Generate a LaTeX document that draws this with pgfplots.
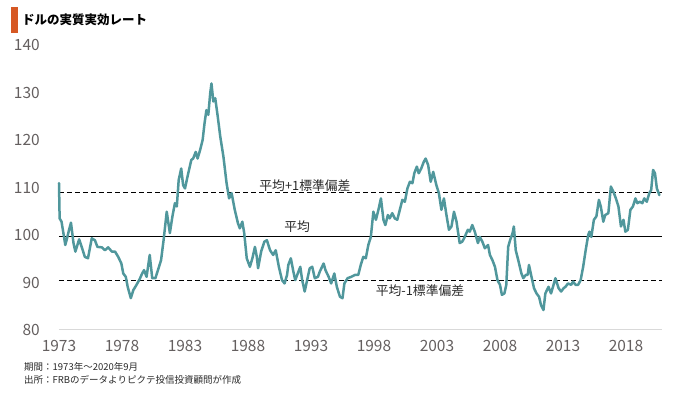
\documentclass[border=0pt]{standalone}
\usepackage{fontspec}
\setmainfont{Noto Sans CJK JP}
\usepackage{pgfplots}
\pgfplotsset{compat=1.18}
\definecolor{teal1}{RGB}{80,151,156}
\definecolor{tickgray}{RGB}{100,95,95}
\definecolor{orangebar}{RGB}{214,88,36}
\definecolor{notegray}{RGB}{40,40,40}
\begin{document}
\begin{tikzpicture}[x=1pt,y=1pt]
\useasboundingbox (0pt,0pt) rectangle (680pt,396pt);
\begin{axis}[
  at={(59pt,66pt)}, anchor=south west, scale only axis,
  width=602.9pt, height=285pt,
  xmin=1973, xmax=2020.85, ymin=80, ymax=140,
  axis lines*=left,
  x axis line style={draw=gray!30, line width=1pt},
  y axis line style={draw=none},
  major tick length=0pt,
  xtick={1973,1978,1983,1988,1993,1998,2003,2008,2013,2018},
  ytick={80,90,100,110,120,130,140},
  /pgf/number format/assume math mode=true,
  /pgf/number format/1000 sep={},
  xticklabel style={font=\fontsize{15.5}{18}\selectfont, text=tickgray, anchor=north, inner sep=0pt, yshift=-10pt},
  yticklabel style={font=\fontsize{15.5}{18}\selectfont, text=tickgray, anchor=east, inner sep=0pt, xshift=-19pt},
  clip=false,
]
\addplot[black, line width=1.2pt, dash pattern=on 5pt off 3pt] coordinates {(1973,108.9) (2020.85,108.9)};
\addplot[black, line width=1.2pt] coordinates {(1973,99.73) (2020.85,99.73)};
\addplot[black, line width=1.2pt, dash pattern=on 5pt off 3pt] coordinates {(1973,90.4) (2020.85,90.4)};
\addplot[teal1, line width=2.5pt, line join=round, line cap=round] coordinates {
(1973.0,110.9) (1973.05,103.5) (1973.2,102.8) (1973.35,100.4) (1973.5,97.9) (1973.6,98.9) (1973.8,101.1) (1973.95,102.6)
(1974.15,98.3) (1974.3,96.5) (1974.6,99.1) (1974.8,97.5) (1975.05,95.4) (1975.3,95.1) (1975.6,99.3) (1975.85,98.9)
(1976.05,97.5) (1976.4,97.4) (1976.65,96.8) (1976.9,97.4) (1977.2,96.5) (1977.45,96.5) (1977.7,95.4) (1977.95,94.0)
(1978.1,91.9) (1978.3,91.2) (1978.45,89.1) (1978.7,86.7) (1978.9,88.4) (1979.15,89.5) (1979.4,90.7) (1979.6,91.9)
(1979.75,92.6) (1979.95,91.2) (1980.2,95.8) (1980.4,90.9) (1980.65,90.9) (1980.9,93.0) (1981.1,94.7) (1981.3,98.9)
(1981.55,104.9) (1981.8,100.4) (1982.0,103.9) (1982.2,106.7) (1982.35,106.0) (1982.5,111.6) (1982.7,114.0) (1982.85,110.5)
(1983.0,109.8) (1983.2,112.3) (1983.5,115.8) (1983.65,116.1) (1983.85,117.5) (1984.0,116.1) (1984.2,117.9) (1984.4,120.0)
(1984.55,123.5) (1984.7,126.3) (1984.85,125.3) (1985.0,129.8) (1985.1,131.9) (1985.25,128.1) (1985.4,128.8) (1985.6,124.9)
(1985.8,120.7) (1986.05,116.5) (1986.3,110.9) (1986.5,107.7) (1986.7,108.8) (1986.95,105.3) (1987.2,102.5) (1987.35,101.4)
(1987.55,102.8) (1987.7,100.4) (1987.9,95.1) (1988.15,93.3) (1988.35,95.1) (1988.55,97.5) (1988.7,95.4) (1988.8,93.0)
(1989.05,96.6) (1989.3,98.6) (1989.5,98.9) (1989.75,96.8) (1990.0,95.8) (1990.2,96.8) (1990.45,93.3) (1990.7,90.5)
(1990.9,89.8) (1991.1,91.6) (1991.2,93.7) (1991.4,95.1) (1991.6,92.3) (1991.75,90.5) (1991.95,91.9) (1992.15,93.3)
(1992.3,90.5) (1992.5,88.1) (1992.75,91.2) (1992.9,93.0) (1993.1,93.3) (1993.3,90.9) (1993.55,91.2) (1993.7,92.3)
(1994.0,94.0) (1994.15,92.6) (1994.4,91.2) (1994.6,89.8) (1994.85,91.9) (1995.05,89.1) (1995.3,87.0) (1995.5,86.7)
(1995.65,89.8) (1995.9,90.9) (1996.2,91.2) (1996.5,91.6) (1996.75,91.6) (1996.95,93.7) (1997.15,95.4) (1997.35,95.1)
(1997.55,97.9) (1997.75,99.6) (1997.95,104.9) (1998.15,103.2) (1998.35,105.3) (1998.55,107.7) (1998.75,103.2) (1998.9,102.1)
(1999.1,104.2) (1999.25,103.5) (1999.45,104.6) (1999.65,103.5) (1999.85,103.2) (2000.05,105.3) (2000.25,107.4) (2000.45,107.0)
(2000.65,109.8) (2000.85,111.2) (2001.05,110.9) (2001.2,113.0) (2001.4,114.4) (2001.55,113.0) (2001.75,114.0) (2001.95,115.4)
(2002.1,116.1) (2002.3,114.7) (2002.5,111.2) (2002.7,113.3) (2002.95,110.5) (2003.15,108.8) (2003.35,105.3) (2003.55,107.7)
(2003.75,104.2) (2003.95,101.1) (2004.15,101.8) (2004.35,104.9) (2004.55,102.8) (2004.8,98.3) (2005.0,98.6) (2005.15,99.3)
(2005.45,101.1) (2005.6,100.7) (2005.8,102.1) (2006.0,100.7) (2006.25,98.3) (2006.4,99.6) (2006.6,98.6) (2006.8,97.2)
(2007.05,97.9) (2007.2,95.8) (2007.4,94.7) (2007.6,93.3) (2007.8,90.5) (2008.0,89.5) (2008.15,87.4) (2008.35,87.7)
(2008.5,89.5) (2008.65,97.5) (2008.8,98.9) (2009.0,100.4) (2009.1,101.8) (2009.25,96.8) (2009.45,94.7) (2009.7,91.9)
(2009.85,90.9) (2010.05,91.6) (2010.2,91.6) (2010.3,93.7) (2010.5,91.2) (2010.7,88.8) (2010.9,87.7) (2011.1,87.0)
(2011.25,85.3) (2011.45,84.2) (2011.6,87.7) (2011.85,89.1) (2012.05,87.7) (2012.25,89.5) (2012.4,90.9) (2012.65,88.8)
(2012.85,88.1) (2013.05,88.8) (2013.2,89.1) (2013.4,89.8) (2013.65,89.5) (2013.8,90.2) (2014.0,89.5) (2014.2,89.5)
(2014.4,90.5) (2014.6,93.3) (2014.8,96.8) (2015.0,100.0) (2015.1,100.7) (2015.25,99.6) (2015.45,103.2) (2015.65,103.9)
(2015.85,107.4) (2016.0,106.0) (2016.2,102.8) (2016.35,104.2) (2016.6,104.6) (2016.8,110.2) (2017.0,109.1) (2017.2,107.7)
(2017.4,106.0) (2017.6,101.8) (2017.8,103.2) (2017.95,100.7) (2018.15,101.1) (2018.35,105.3) (2018.55,106.0) (2018.75,107.7)
(2018.9,106.7) (2019.1,107.0) (2019.3,106.7) (2019.45,107.7) (2019.65,107.0) (2019.85,108.8) (2020.0,109.5) (2020.15,113.7)
(2020.3,113.0) (2020.45,109.8) (2020.65,108.4)
};
\node[font=\fontsize{12.8}{15}\selectfont, text=notegray] at (axis cs:1992.52,110.5) {平均+1標準偏差};
\node[font=\fontsize{12.8}{15}\selectfont, text=notegray] at (axis cs:1991.9,101.8) {平均};
\node[font=\fontsize{12.8}{15}\selectfont, text=notegray] at (axis cs:2001.65,88.3) {平均-1標準偏差};
\end{axis}
\fill[orangebar] (11pt,363pt) rectangle (18pt,389pt);
\node[anchor=west, inner sep=0pt, font=\bfseries\fontsize{12.5}{15}\selectfont, text=black] at (22pt,376pt) {ドルの実質実効レート};
\node[anchor=west, inner sep=0pt, font=\fontsize{9.5}{11}\selectfont, text=notegray] at (24pt,29pt) {期間：1973年～2020年9月};
\node[anchor=west, inner sep=0pt, font=\fontsize{9.5}{11}\selectfont, text=notegray] at (24pt,16pt) {出所：FRBのデータよりピクテ投信投資顧問が作成};
\end{tikzpicture}
\end{document}
